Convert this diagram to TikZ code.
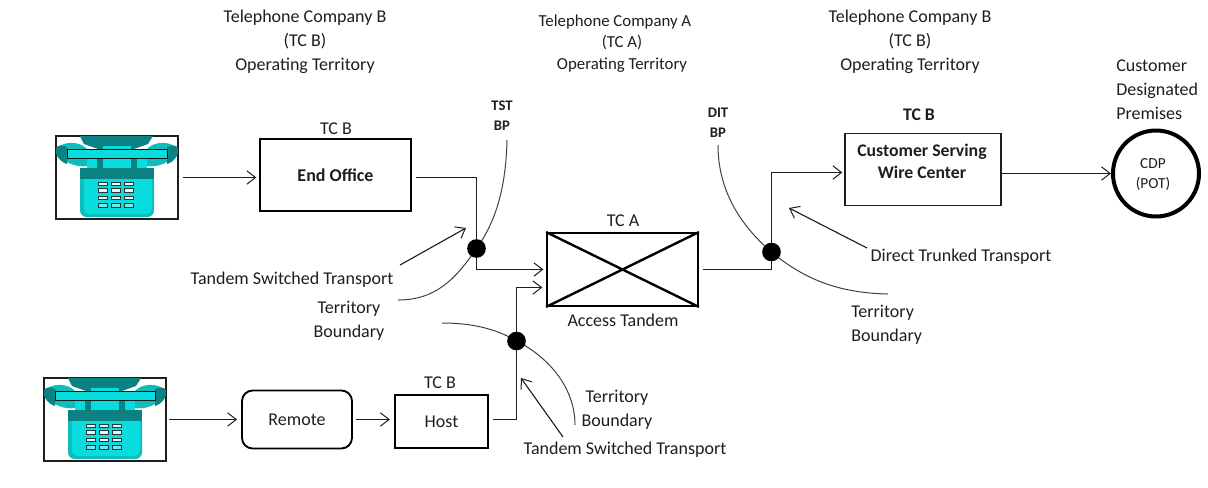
\documentclass[tikz,border=0pt]{standalone}
\usepackage{fontspec}
\setmainfont{Carlito}
\usetikzlibrary{arrows.meta}
\definecolor{phlight}{HTML}{08DCDC}
\definecolor{phmid}{HTML}{10BDBD}
\definecolor{phdark}{HTML}{0A8283}
\definecolor{ink}{HTML}{1E1E1E}
\tikzset{
  x=0.75pt,y=-0.75pt,
  lab/.style={font=\fontsize{13.5pt}{18pt}\selectfont,text=ink,align=center,inner sep=0pt},
  blab/.style={lab,font=\fontsize{13.3pt}{16.2pt}\selectfont\bfseries},
  slab/.style={lab,font=\fontsize{11pt}{15pt}\selectfont\bfseries},
  thinbox/.style={draw=ink,line width=0.9pt,inner sep=0pt,align=center},
  thickbox/.style={draw=black,line width=1.7pt,inner sep=0pt,align=center},
  wire/.style={draw=ink,line width=0.85pt},
  arr/.style={wire,-{Straight Barb[length=6.5pt,width=10pt,line width=0.75pt]}},
  bound/.style={draw=ink!85,line width=0.75pt},
  bpdot/.style={circle,fill=black,inner sep=0pt,minimum size=14pt},
  phonebox/.style={draw=ink,line width=0.8pt,inner sep=0pt,minimum width=91.5pt,minimum height=62pt},
  phone/.pic={
    % coordinates from the frame's top-left corner, in pixels
    \fill[phdark] (24,0) -- (97,0) -- (92,8) -- (78,13) -- (42,13) -- (28,8) -- cycle;
    \fill[phmid] (1,12) .. controls (8,5) and (24,5) .. (31,13) -- (31,30) .. controls (20,32) and (8,26) .. (1,18) -- cycle;
    \fill[phmid] (121,12) .. controls (114,5) and (98,5) .. (91,13) -- (91,30) .. controls (102,32) and (114,26) .. (121,18) -- cycle;
    \fill[phdark] (0,12) .. controls (-2,18) and (4,26) .. (11,28) -- (11,11) .. controls (6,9) and (2,9) .. (0,12) -- cycle;
    \fill[phdark] (122,12) .. controls (124,18) and (118,26) .. (111,28) -- (111,11) .. controls (116,9) and (120,9) .. (122,12) -- cycle;
    \fill[phlight] (31,22) rectangle (91,33);
    \fill[phlight] (47,10) rectangle (75,33);
    \fill[phdark] (41,22) rectangle (47,33);
    \fill[phdark] (75,22) rectangle (81,33);
    \draw[draw=black!80!phdark,fill=phlight,line width=0.7pt] (11,13.5) rectangle (111,22.5);
    \fill[phmid,rounded corners=5pt] (24,36) rectangle (98,81);
    \fill[phlight,rounded corners=4pt] (28,36) rectangle (96,78);
    \fill[phdark] (24,32) rectangle (98,43);
    \foreach \cx in {42,55,68}{
      \foreach \cy/\cc in {46/white!85!phlight,52.5/white!85!phlight,60/white!85!phlight,67.5/phlight!60!white}{
        \draw[draw=black!80,fill=\cc,line width=0.65pt] (\cx,\cy) rectangle ++(9,3.6);
      }
    }
  }
}
\begin{document}
\begin{tikzpicture}
\useasboundingbox (0,0) rectangle (1208,487);

% phones
\node[phonebox] (ph1) at (117,177.5) {};
\pic at (56,136) {phone};
\draw[draw=ink,line width=0.8pt] (ph1.north west) rectangle (ph1.south east);
\node[phonebox] (ph2) at (105,419.5) {};
\pic at (44,378) {phone};
\draw[draw=ink,line width=0.8pt] (ph2.north west) rectangle (ph2.south east);

% boxes
\node[thickbox,minimum width=113pt,minimum height=54pt,font=\fontsize{13.5pt}{18pt}\selectfont\bfseries,text=ink] (eo) at (335.5,175) {\raisebox{-0.75pt}{End Office}};
\node[draw=black,line width=1.4pt,rounded corners=8pt,inner sep=0pt,minimum width=82.5pt,minimum height=43.5pt,lab] (rem) at (297,419.5) {\raisebox{-0.75pt}{Remote}};
\node[draw=black,line width=1.4pt,inner sep=0pt,minimum width=70pt,minimum height=40pt,lab] (host) at (441.5,421.5) {\raisebox{-0.75pt}{Host}};
\node[thickbox,minimum width=113pt,minimum height=54.5pt] (at) at (622.5,269.5) {};
\draw[black,line width=1.8pt] (at.north west) -- (at.south east) (at.south west) -- (at.north east);
\node[thinbox,minimum width=117pt,minimum height=54.5pt] (cs) at (923,169.5) {};
\node[blab,anchor=center] (cslab) at (922,161.5) {Customer Serving\\Wire Center};
\node[circle,draw=black,line width=3pt,inner sep=0pt,minimum size=64.5pt] (cdp) at (1156,173.5) {};
\node[lab,font=\fontsize{11.5pt}{15pt}\selectfont] (cdplab) at (1153,175) {CDP\\(POT)};

% boundary points
\coordinate (d1) at (476.5,248.5);
\coordinate (d2) at (516.5,341);
\coordinate (d3) at (771.5,252);

% free ends
\coordinate (tstTop) at (507,140);
\coordinate (tstEnd) at (398,300);
\coordinate (midEnd) at (442,323);
\coordinate (midLow) at (575,425);
\coordinate (ditTop) at (718,145);
\coordinate (ditEnd) at (888,294);
\coordinate (atLow) at (545,287.5);
\coordinate (csIn) at (845,172.5);

% boundaries
\draw[bound] (tstTop) .. controls (506,185) and (497,220) .. (d1) .. controls (455,280) and (435,300) .. (tstEnd);
\draw[bound] (midEnd) .. controls (470,323) and (495,328) .. (d2) .. controls (545,355) and (575,385) .. (midLow);
\draw[bound] (ditTop) .. controls (718,190) and (740,225) .. (d3) .. controls (805,280) and (840,293) .. (ditEnd);

% wires
\draw[arr,shorten <=3pt,shorten >=2pt] (ph1.east) -- (ph1.east -| eo.west);
\draw[arr,shorten <=2pt,shorten >=3pt] (ph2.east) -- (rem.west);
\draw[arr,shorten <=2pt,shorten >=3pt] (rem.east) -- (rem.east -| host.west);
\draw[arr,shorten <=3pt,shorten >=2pt] (eo.east |- ph1.east) -| (d1) |- (at.west);
\draw[arr,shorten <=3pt,shorten >=2pt] (host.east |- rem.east) -| (d2) |- (atLow);
\draw[arr,shorten <=3pt,shorten >=2pt] (at.east) -| (d3) |- (csIn);
\draw[arr] (cs.east |- cdp.west) -- (cdp.west);

% boundary point dots on top of the wires
\node[bpdot] (dot1) at (d1) {};
\node[bpdot] (dot2) at (d2) {};
\node[bpdot] (dot3) at (d3) {};

% pointer arrows
\coordinate (tsp1) at (400,265);
\coordinate (tsp1t) at (466,228);
\coordinate (tsp2) at (563,437);
\coordinate (tsp2t) at (521,378);
\coordinate (dtt) at (867,248);
\coordinate (dtt2) at (789,208);
\draw[arr] (tsp1) -- (tsp1t);
\draw[arr] (tsp2) -- (tsp2t);
\draw[arr] (dtt) -- (dtt2);

% labels
\node[lab] (l1) at (305,42) {Telephone Company B\\(TC B)\\Operating Territory};
\node[lab,font=\fontsize{12.6pt}{16.5pt}\selectfont] (l2a) at (615,22) {Telephone Company A};
\node[lab,font=\fontsize{12.6pt}{16.5pt}\selectfont] (l2b) at (622,54) {(TC A)\\Operating Territory};
\node[lab] (l3) at (910,42) {Telephone Company B\\(TC B)\\Operating Territory};
\node[lab,align=left,anchor=west] (l4) at (1116,90) {Customer\\Designated\\Premises};
\node[lab] at (336,129) {TC B};
\node[blab] at (919,115) {TC B};
\node[lab] at (623,221) {TC A};
\node[lab] at (623,320) {Access Tandem};
\node[lab] at (440,383) {TC B};
\node[slab] at (502,116) {TST\\BP};
\node[slab] at (718,123) {DIT\\BP};
\node[lab] at (292,280) {Tandem Switched Transport};
\node[lab] at (349,321) {Territory\\Boundary};
\node[lab] at (617,410) {Territory\\Boundary};
\node[lab] at (625,450) {Tandem Switched Transport};
\node[lab] at (961,257) {Direct Trunked Transport};
\node[lab,align=left,anchor=west] at (851,325) {Territory\\Boundary};
\end{tikzpicture}
\end{document}
